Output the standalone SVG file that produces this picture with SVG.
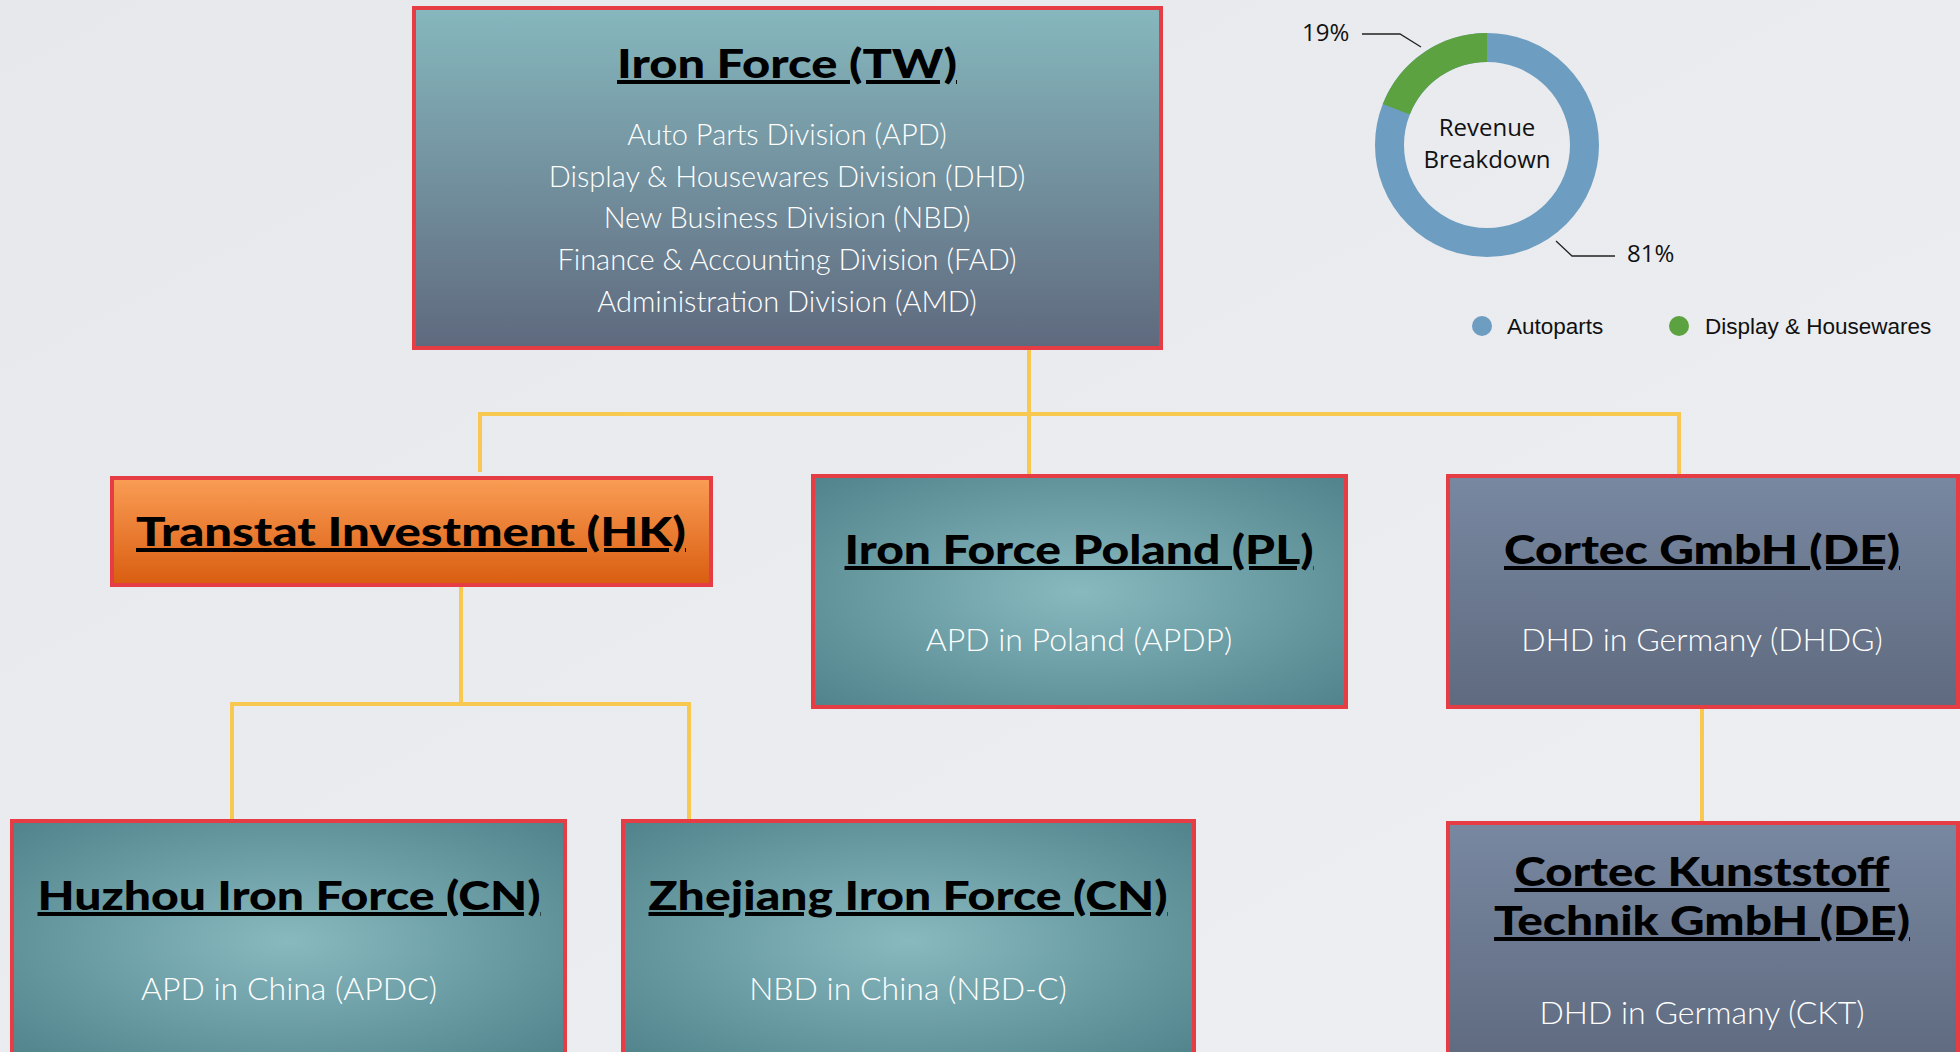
<svg xmlns="http://www.w3.org/2000/svg" width="1960" height="1052" viewBox="0 0 1960 1052">
<defs>
<linearGradient id="bg" x1="0" y1="0" x2="1" y2="1"><stop offset="0" stop-color="#E6E8EB"/><stop offset="1" stop-color="#EEEFF2"/></linearGradient>
<linearGradient id="gTW" x1="0" y1="0" x2="0" y2="1"><stop offset="0" stop-color="#86B8BE"/><stop offset="1" stop-color="#5F697E"/></linearGradient>
<linearGradient id="gDE" x1="0" y1="0" x2="0" y2="1"><stop offset="0" stop-color="#7888A1"/><stop offset="1" stop-color="#5F6A7F"/></linearGradient>
<linearGradient id="gHK" x1="0" y1="0" x2="0" y2="1"><stop offset="0" stop-color="#FA9D55"/><stop offset="1" stop-color="#D95D10"/></linearGradient>
<radialGradient id="gTeal" cx="0.5" cy="0.5" r="0.75"><stop offset="0" stop-color="#88B9BF"/><stop offset="1" stop-color="#4D7F88"/></radialGradient>
<style>
.box{stroke:#E63C43;stroke-width:4}
.conn{stroke:#F8C851;stroke-width:4;fill:none}
.title{font-family:Lato,"Liberation Sans",sans-serif;font-weight:900;font-size:40px;fill:#000;text-anchor:middle;text-decoration:underline}
.sub{font-family:Lato,"Liberation Sans",sans-serif;font-weight:300;font-size:32px;fill:#FFFFFF;text-anchor:middle}
.tw{font-size:29px}
.chart{font-family:"Open Sans","Liberation Sans",sans-serif;font-size:24px;fill:#111}
.legend{font-family:"Liberation Sans",Arial,sans-serif;font-size:22.5px;fill:#111}
.lead{stroke:#222;stroke-width:1.3;fill:none}
</style>
</defs>
<rect width="1960" height="1052" fill="url(#bg)"/>

<g id="connectors">
<path class="conn" d="M1029,349 V474"/>
<path class="conn" d="M480,472 V414 H1679 V474"/>
<path class="conn" d="M461,585 V704"/>
<path class="conn" d="M232,820 V704 H689 V820"/>
<path class="conn" d="M1702,707 V822"/>
</g>

<g id="node-tw">
<rect class="box" x="414" y="8" width="747" height="340" fill="url(#gTW)"/>
<text class="title" x="787" y="78" textLength="340" lengthAdjust="spacingAndGlyphs">Iron Force (TW)</text>
<text class="sub tw" x="787" y="145">Auto Parts Division (APD)</text>
<text class="sub tw" x="787" y="187">Display &amp; Housewares Division (DHD)</text>
<text class="sub tw" x="787" y="228">New Business Division (NBD)</text>
<text class="sub tw" x="787" y="270">Finance &amp; Accounting Division (FAD)</text>
<text class="sub tw" x="787" y="312">Administration Division (AMD)</text>
</g>

<g id="node-hk">
<rect class="box" x="112" y="478" width="599" height="107" fill="url(#gHK)"/>
<text class="title" x="411" y="546" textLength="550" lengthAdjust="spacingAndGlyphs">Transtat Investment (HK)</text>
</g>

<g id="node-pl">
<rect class="box" x="813" y="476" width="533" height="231" fill="url(#gTeal)"/>
<text class="title" x="1079" y="564" textLength="469" lengthAdjust="spacingAndGlyphs">Iron Force Poland (PL)</text>
<text class="sub" x="1079" y="651">APD in Poland (APDP)</text>
</g>

<g id="node-de">
<rect class="box" x="1448" y="476" width="510" height="231" fill="url(#gDE)"/>
<text class="title" x="1702" y="564" textLength="396" lengthAdjust="spacingAndGlyphs">Cortec GmbH (DE)</text>
<text class="sub" x="1702" y="651">DHD in Germany (DHDG)</text>
</g>

<g id="node-ckt">
<rect class="box" x="1448" y="823" width="510" height="240" fill="url(#gDE)"/>
<text class="title" x="1702" y="886" textLength="375" lengthAdjust="spacingAndGlyphs">Cortec Kunststoff</text>
<text class="title" x="1702" y="935" textLength="416" lengthAdjust="spacingAndGlyphs">Technik GmbH (DE)</text>
<text class="sub" x="1702" y="1024">DHD in Germany (CKT)</text>
</g>

<g id="node-huzhou">
<rect class="box" x="12" y="821" width="553" height="240" fill="url(#gTeal)"/>
<text class="title" x="289" y="910" textLength="503" lengthAdjust="spacingAndGlyphs">Huzhou Iron Force (CN)</text>
<text class="sub" x="289" y="1000">APD in China (APDC)</text>
</g>

<g id="node-zhejiang">
<rect class="box" x="623" y="821" width="571" height="240" fill="url(#gTeal)"/>
<text class="title" x="908" y="910" textLength="519" lengthAdjust="spacingAndGlyphs">Zhejiang Iron Force (CN)</text>
<text class="sub" x="908" y="1000">NBD in China (NBD-C)</text>
</g>

<g id="chart">
<circle cx="1487" cy="145" r="97.5" fill="none" stroke="#6D9DC1" stroke-width="29"/>
<path d="M1487,47.5 A97.5,97.5 0 0 0 1396.3,109.2" fill="none" stroke="#5DA240" stroke-width="29"/>
<text class="chart" x="1487" y="136" text-anchor="middle">Revenue</text>
<text class="chart" x="1487" y="168" text-anchor="middle">Breakdown</text>
<path class="lead" d="M1362,34 H1400 L1421,47"/>
<text class="chart" x="1302" y="41">19%</text>
<path class="lead" d="M1556,241 L1572,256 H1615"/>
<text class="chart" x="1627" y="262">81%</text>
<circle cx="1482" cy="326" r="10" fill="#6D9DC1"/>
<text class="legend" x="1507" y="334">Autoparts</text>
<circle cx="1679" cy="326" r="10" fill="#5DA240"/>
<text class="legend" x="1705" y="334">Display &amp; Housewares</text>
</g>
</svg>
